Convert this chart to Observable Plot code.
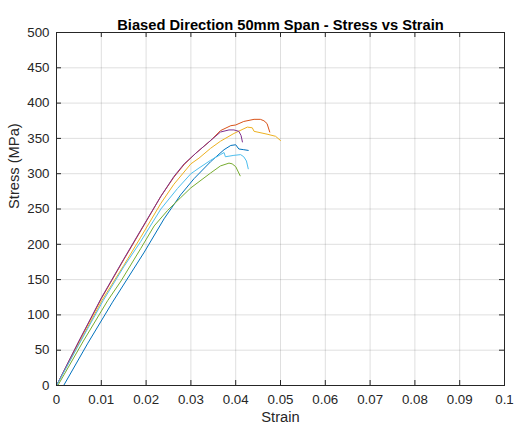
<!DOCTYPE html>
<html><head><meta charset="utf-8">
<script src="https://cdn.jsdelivr.net/npm/d3@7"></script>
<script src="https://cdn.jsdelivr.net/npm/@observablehq/plot@0.6"></script>
<style>body{margin:0;background:#fff}</style>
</head><body><div id="chart"></div>
<script>
const chartTitle = "Biased Direction 50mm Span - Stress vs Strain";
const xLabel = "Strain";
const yLabel = "Stress (MPa)";
const xTicks = [0, 0.01, 0.02, 0.03, 0.04, 0.05, 0.06, 0.07, 0.08, 0.09, 0.1];
const yTicks = [0, 50, 100, 150, 200, 250, 300, 350, 400, 450, 500];
const specimens = ["Specimen 1", "Specimen 2", "Specimen 3", "Specimen 4", "Specimen 5", "Specimen 6"];
const colors = ["#0072BD", "#D95319", "#EDB120", "#7E2F8E", "#77AC30", "#4DBEEE"];

const strain1 = [0.0016, 0.0070, 0.0125, 0.0196, 0.0240, 0.0277, 0.0307, 0.0344, 0.0374, 0.0389, 0.0400, 0.0407, 0.0418, 0.0428];
const stress1 = [0, 60, 118, 189, 236, 270, 293, 317, 334, 340, 341, 335, 334, 333];

const strain2 = [0, 0.0050, 0.0100, 0.0150, 0.0188, 0.0233, 0.0262, 0.0285, 0.0311, 0.0344, 0.0366, 0.0389, 0.0400, 0.0418, 0.0441, 0.0455, 0.0463, 0.0470, 0.0476];
const stress2 = [0, 62, 123, 178, 219, 268, 295, 313, 329, 347, 361, 368, 369, 374, 377, 377, 375, 371, 359];

const strain3 = [0, 0.0050, 0.0101, 0.0150, 0.0188, 0.0233, 0.0262, 0.0300, 0.0318, 0.0344, 0.0366, 0.0396, 0.0426, 0.0437, 0.0441, 0.0470, 0.0489, 0.0500];
const stress3 = [0, 59, 120, 170, 210, 258, 285, 314, 322, 336, 346, 357, 366, 365, 360, 356, 353, 347];

const strain4 = [0, 0.0050, 0.0100, 0.0150, 0.0188, 0.0233, 0.0262, 0.0285, 0.0311, 0.0344, 0.0366, 0.0385, 0.0396, 0.0407, 0.0412, 0.0415];
const stress4 = [0, 63, 124, 179, 220, 268, 296, 314, 329, 347, 359, 362, 362, 360, 354, 345];

const strain5 = [0.0003, 0.0060, 0.0114, 0.0144, 0.0188, 0.0218, 0.0248, 0.0277, 0.0300, 0.0344, 0.0366, 0.0385, 0.0392, 0.0400, 0.0410];
const stress5 = [0, 63, 120, 148, 194, 226, 248, 266, 280, 301, 311, 315, 314, 310, 297];

const strain6 = [0, 0.0050, 0.0104, 0.0150, 0.0188, 0.0233, 0.0270, 0.0300, 0.0318, 0.0344, 0.0366, 0.0374, 0.0377, 0.0396, 0.0411, 0.0418, 0.0424, 0.0428];
const stress6 = [0, 58, 120, 168, 204, 250, 279, 300, 308, 319, 327, 330, 324, 326, 327, 324, 318, 307];

const strains = [strain1, strain2, strain3, strain4, strain5, strain6];
const stresses = [stress1, stress2, stress3, stress4, stress5, stress6];
const data = specimens.flatMap((s, i) => strains[i].map((e, j) => ({specimen: s, strain: e, stress: stresses[i][j]})));

const ink = "#262626";
const chart = Plot.plot({
  width: 515, height: 433,
  marginTop: 32, marginLeft: 56, marginRight: 11, marginBottom: 48,
  x: {domain: [0, 0.1]},
  y: {domain: [0, 500]},
  color: {domain: specimens, range: colors},
  style: {fontFamily: "'Liberation Sans', Arial, Helvetica, sans-serif", color: ink, background: "white"},
  marks: [
    Plot.gridX(xTicks, {stroke: ink, strokeOpacity: 0.15}),
    Plot.gridY(yTicks, {stroke: ink, strokeOpacity: 0.15}),
    Plot.line(data, {x: "strain", y: "stress", z: "specimen", stroke: "specimen", strokeWidth: 1}),
    Plot.ruleX(xTicks, {x: d => d, insetTop: 348, stroke: ink}),
    Plot.ruleX(xTicks, {x: d => d, insetBottom: 348, stroke: ink}),
    Plot.ruleY(yTicks, {y: d => d, insetRight: 443, stroke: ink}),
    Plot.ruleY(yTicks, {y: d => d, insetLeft: 443, stroke: ink}),
    Plot.frame({stroke: ink}),
    Plot.axisX(xTicks, {tickSize: 0, tickPadding: 9, fontSize: 13.3, label: null, tickFormat: d => String(d)}),
    Plot.axisY(yTicks, {tickSize: 0, tickPadding: 7, fontSize: 13.3, label: null}),
    Plot.text([chartTitle], {frameAnchor: "top", dy: -13, fontWeight: "bold", fontSize: 14.7, fill: "#000"}),
    Plot.text([xLabel], {frameAnchor: "bottom", dy: 36, fontSize: 14.7}),
    Plot.text([yLabel], {frameAnchor: "left", dx: -42, rotate: -90, fontSize: 14.7})
  ]
});
document.getElementById("chart").appendChild(chart);
</script>
</body></html>
